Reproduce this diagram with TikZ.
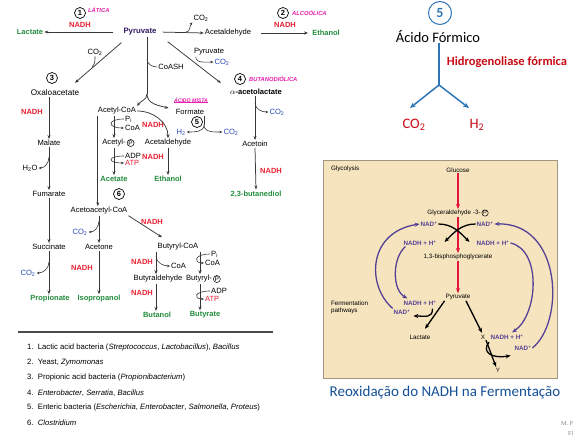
\documentclass[tikz,border=0pt]{standalone}
\usepackage{fontspec}
\setmainfont{Liberation Sans}
\newfontfamily\calibri{Carlito}
\newfontfamily\notefont{Liberation Serif}
\usetikzlibrary{positioning, arrows.meta, calc}
\definecolor{nadred}{RGB}{232,32,48}
\definecolor{prodgreen}{RGB}{34,140,60}
\definecolor{gasblue}{RGB}{40,70,180}
\definecolor{pyrtext}{RGB}{50,25,100}
\definecolor{handpink}{RGB}{228,30,170}
\definecolor{linegray}{RGB}{55,55,55}
\definecolor{ybranch}{RGB}{46,117,182}
\definecolor{enzred}{RGB}{200,10,20}
\definecolor{capblue}{RGB}{20,80,150}
\definecolor{boxbg}{RGB}{246,228,190}
\definecolor{boxedge}{RGB}{160,150,130}
\definecolor{cycpurple}{RGB}{85,65,150}
\definecolor{glyred}{RGB}{228,20,60}

\begin{document}
\begin{tikzpicture}[
  x=1pt, y=-1pt,
  lbl/.style={inner sep=1pt, font=\fontsize{7.6}{8}\selectfont},
  nadh/.style={inner sep=1pt, text=nadred, font=\fontsize{7.5}{8}\selectfont\bfseries},
  prod/.style={inner sep=1pt, text=prodgreen, font=\fontsize{7.5}{8}\selectfont\bfseries},
  gas/.style={lbl, text=gasblue},
  num/.style={circle, draw, line width=0.7pt, inner sep=0.5pt, minimum size=11pt,
    font=\fontsize{7.5}{8}\selectfont\bfseries},
  hand/.style={inner sep=0pt, text=handpink, font=\fontsize{5.8}{6}\selectfont\itshape\bfseries},
  pc/.style={circle, draw, inner sep=0.3pt, line width=0.5pt, font=\fontsize{6.5}{7}\selectfont},
  flow/.style={-{Stealth[length=4pt,width=3pt]}, line width=0.75pt, draw=linegray},
  plain/.style={line width=0.75pt, draw=linegray},
  hook/.style={-{Stealth[length=3pt,width=2.5pt]}, line width=0.6pt, draw=linegray},
  box/.style={inner sep=0.8pt, font=\fontsize{6.3}{7}\selectfont},
  nadbox/.style={inner sep=0.8pt, text=cycpurple, font=\fontsize{6.3}{7}\selectfont\bfseries},
  cyc/.style={-{Stealth[length=5pt,width=4pt]}, line width=1.3pt, draw=cycpurple},
  glyc/.style={-{Stealth[length=5pt,width=4pt]}, line width=1.2pt, draw=glyred},
  ferm/.style={-{Stealth[length=5pt,width=4pt]}, line width=1.3pt, draw=black},
  legend/.style={anchor=west, inner sep=0pt, font=\fontsize{7.7}{8}\selectfont},
  big/.style={inner sep=1pt, font=\calibri\fontsize{14.5}{15}\selectfont}
]
\useasboundingbox (0,0) rectangle (577,438);

\node[lbl, text=pyrtext, font=\fontsize{7.8}{8}\selectfont\bfseries] (pyr) at (140,32) {Pyruvate};
\node[prod] (lact) at (30,32) {Lactate};
\node[lbl] (acald) at (228,33) {Acetaldehyde};
\node[prod] (eth1) at (326,33) {Ethanol};
\node[nadh] (nadh1) at (80,25) {NADH};
\node[num] (n1) at (80,13) {1};
\node[hand, anchor=west] (h1) at (88,10) {LÁTICA};
\node[nadh] (nadh2) at (285,25) {NADH};
\node[num] (n2) at (283,13) {2};
\node[hand, anchor=west] (h2) at (292,13) {ALCOÓLICA};
\node[lbl] (co2a) at (201,18) {CO\textsubscript{2}};

\draw[flow, shorten <=9pt] (pyr.west) -- (lact.east);
\draw[flow, shorten <=5pt] (pyr.east) -- (acald.west);
\coordinate (ka) at (186,32);
\draw[hook] (ka) to[out=0,in=-130] (co2a.south west);
\draw[flow, shorten <=9pt, shorten >=3pt] (acald.east) -- (eth1.west);

\node[lbl] (co2b) at (95,52) {CO\textsubscript{2}};
\node[num] (n3) at (52,78) {3};
\node[lbl, font=\fontsize{8.2}{9}\selectfont] (oxa) at (55,93) {Oxaloacetate};
\draw[flow] ([shift={(-1,6)}]pyr.south west) -- ([shift={(20,-6)}]oxa.north);
\coordinate (kb) at (92,67);
\draw[plain, line width=0.6pt] (co2b.south) to[out=-90,in=45] (kb);

\coordinate (split) at (147,94);
\node[lbl] (coash) at (171,67) {CoASH};
\node[lbl] (acoa) at (117,111) {Acetyl-CoA};
\node[lbl] (form) at (190,112) {Formate};
\node[hand, font=\fontsize{5.2}{6}\selectfont\itshape\bfseries] (h5) at (191,100) {ÁCIDO MISTA};
\draw[handpink, line width=0.5pt] (h5.south west) -- (h5.south east);
\draw[plain] (split |- pyr.south) -- (split);
\coordinate (kc) at (147,59);
\draw[plain, line width=0.6pt] (kc) to[out=-90,in=180] (coash.west);
\draw[flow] (split) to[out=-90,in=60] (acoa.north east);
\draw[flow] (split) to[out=-90,in=165] ([shift={(-6,0)}]form.north west);

\node[lbl] (pyr2) at (209,52) {Pyruvate};
\node[gas] (co2c) at (222,62) {CO\textsubscript{2}};
\node[num] (n4) at (240,79) {4};
\node[hand, anchor=west] (h4) at (249,79) {BUTANODIÓLICA};
\node[lbl, font=\fontsize{7.6}{8}\selectfont\bfseries] (acl) at (256,92) {$\alpha$-acetolactate};
\draw[flow] ([shift={(10,5)}]pyr.south east) -- ([shift={(-8,-5)}]acl.north west);
\draw[hook] ([shift={(3,0)}]pyr2.south west) to[out=-90,in=180] (co2c.west);

\node[nadh] (nadh3) at (32,112) {NADH};
\node[lbl] (mal) at (49,143) {Malate};
\node[lbl] (h2o) at (30,168) {H\textsubscript{2}O};
\node[lbl] (fum) at (49,194) {Fumarate};
\node[lbl] (suc) at (49,247) {Succinate};
\node[gas] (co2f) at (28,273) {CO\textsubscript{2}};
\node[prod] (prop) at (50,299) {Propionate};
\draw[flow] (mal.north |- oxa.south) -- (mal.north);
\draw[flow] (mal.south) -- (fum.north);
\coordinate (kw) at (49,157);
\draw[hook] (kw) to[out=-90,in=0] (h2o.east);
\draw[flow] (fum.south) -- (suc.north);
\draw[flow] (suc.south) -- (suc.south |- prop.north);
\coordinate (kf) at (49,262);
\draw[hook] (kf) to[out=-90,in=0] (co2f.east);

\node[nadh] (nadh4) at (153,125) {NADH};
\node[lbl, anchor=west] (pi1) at (124,119) {P\textsubscript{i}};
\node[lbl, anchor=west] (coa1) at (124,128) {CoA};
\node[lbl] (acp) at (114,143) {Acetyl-};
\node[pc, right=0pt of acp] (acpP) {P};
\node[lbl] (acald2) at (168,143) {Acetaldehyde};
\node[lbl, anchor=west] (adp1) at (124,156) {ADP};
\node[nadh, anchor=west, font=\fontsize{7.5}{8}\selectfont] (atp1) at (124,163) {ATP};
\node[nadh] (nadh5) at (153,157) {NADH};
\node[prod] (acet) at (114,179) {Acetate};
\node[prod] (eth2) at (168,179) {Ethanol};
\node[num] (n6) at (119,194) {6};
\draw[flow] (acp.north |- acoa.south) -- (acp.north);
\draw[hook] (pi1.west) .. controls +(-17,0) and +(-17,0) .. (coa1.west);
\draw[flow] (acp.south) -- (acet.north);
\draw[hook] (adp1.west) .. controls +(-17,0) and +(-17,0) .. (atp1.west);
\draw[flow] (acoa.east) to[out=0,in=90] (acald2.north);
\draw[flow] (acald2.south) -- (eth2.north);

\node[num] (n5) at (197,122) {5};
\node[gas] (h2) at (181,132) {H\textsubscript{2}};
\node[gas] (co2d) at (231,132) {CO\textsubscript{2}};
\coordinate (fs) at (204,125);
\draw[plain] (fs |- form.south) -- (fs);
\draw[hook] (fs) to[out=-90,in=0] (h2.east);
\draw[hook] (fs) to[out=-90,in=180] (co2d.west);

\node[gas] (co2e) at (277,112) {CO\textsubscript{2}};
\node[lbl] (acn) at (255,144) {Acetoin};
\node[nadh] (nadh6) at (271,171) {NADH};
\node[prod] (bdo) at (256,194) {2,3-butanediol};
\draw[flow] (acn.north |- acl.south) -- (acn.north);
\coordinate (ke) at (255,103);
\draw[hook] (ke) to[out=-90,in=180] (co2e.west);
\draw[flow] (acn.south) -- (bdo.north);

\node[lbl] (acac) at (99,211) {Acetoacetyl-CoA};
\coordinate (acoaL) at ([xshift=1pt]acoa.south west);
\draw[flow] (acoaL) -- (acoaL |- acac.north);
\node[gas] (co2g) at (80,232) {CO\textsubscript{2}};
\node[lbl] (acetone) at (99,247) {Acetone};
\node[nadh] (nadh7) at (82,268) {NADH};
\node[prod] (iso) at (99,299) {Isopropanol};
\draw[flow] (acetone.north |- acac.south) -- (acetone.north);
\coordinate (kg) at (99,221);
\draw[hook] (kg) to[out=-90,in=0] (co2g.east);
\draw[flow] (acetone.south) -- (iso.north);

\node[nadh] (nadh8) at (152,222) {NADH};
\node[lbl] (bcoa) at (178,247) {Butyryl-CoA};
\draw[flow] (acac.south east) -- ([shift={(-16,-5)}]bcoa.north);
\coordinate (cx1) at (156,0);
\coordinate (cx2) at (200,0);
\node[nadh] (nadh9) at (142,262) {NADH};
\node[lbl, anchor=west] (coa2) at (170,266) {CoA};
\node[lbl] (bald) at (158,279) {Butyraldehyde};
\node[nadh] (nadh10) at (142,293) {NADH};
\node[prod] (buol) at (157,315) {Butanol};
\node[lbl, anchor=west] (pi2) at (210,254) {P\textsubscript{i}};
\node[lbl, anchor=west] (coa3) at (204,263) {CoA};
\node[lbl] (byp) at (199,279) {Butyryl-};
\node[pc, right=0pt of byp] (bypP) {P};
\node[lbl, anchor=west] (adp2) at (210,291) {ADP};
\node[nadh, anchor=west, font=\fontsize{7.5}{8}\selectfont] (atp2) at (204,299) {ATP};
\node[prod] (buat) at (205,315) {Butyrate};
\draw[flow] (cx1 |- bcoa.south) -- (cx1 |- bald.north);
\coordinate (kh) at (156,256);
\draw[hook] (kh) to[out=-90,in=180] (coa2.west);
\draw[flow] (cx1 |- bald.south) -- (cx1 |- buol.north);
\draw[flow] (cx2 |- bcoa.south) -- (cx2 |- byp.north);
\draw[hook] (pi2.west) .. controls +(-16,0) and +(-11,0) .. (coa3.west);
\draw[flow] (cx2 |- byp.south) -- (cx2 |- buat.north);
\draw[hook] (adp2.west) .. controls +(-16,0) and +(-11,0) .. (atp2.west);

\draw[line width=1.6pt, gray!60!black] (18,332) -- (273,332);
\foreach \i/\txt in {
  1/{Lactic acid bacteria (\textit{Streptococcus}, \textit{Lactobacillus}), \textit{Bacillus}},
  2/{Yeast, \textit{Zymomonas}},
  3/{Propionic acid bacteria (\textit{Propionibacterium})},
  4/{\textit{Enterobacter}, \textit{Serratia}, \textit{Bacillus}},
  5/{Enteric bacteria (\textit{Escherichia}, \textit{Enterobacter}, \textit{Salmonella}, \textit{Proteus})},
  6/{\textit{Clostridium}}}
  \node[legend] (leg\i) at (27,{333+15*\i}) {\i.\ \ \txt};

\node[circle, draw=ybranch, line width=1pt, text=ybranch, inner sep=0pt, minimum size=23pt,
  font=\calibri\fontsize{14}{14}\selectfont\bfseries] (c5) at (440,13) {5};
\node[big] (acf) at (438,36) {Ácido Fórmico};
\node[inner sep=1pt, text=enzred, font=\calibri\fontsize{12.5}{13}\selectfont\bfseries] (hfl) at (507,62) {Hidrogenoliase fórmica};
\node[big, text=enzred] (co2y) at (414,125) {CO\textsubscript{2}};
\node[big, text=enzred] (h2y) at (477,125) {H\textsubscript{2}};
\coordinate (ysplit) at (439,85);
\draw[line width=1.5pt, ybranch] (ysplit |- acf.south) -- (ysplit);
\draw[-{Stealth[length=6pt,width=5pt]}, line width=1.5pt, ybranch] (ysplit) -- ([shift={(-4,-10)}]co2y.north);
\draw[-{Stealth[length=6pt,width=5pt]}, line width=1.5pt, ybranch] (ysplit) -- ([shift={(-8,-10)}]h2y.north);

\draw[fill=boxbg, draw=boxedge, line width=0.8pt] (323,160) rectangle (557,378);
\node[box, anchor=west] (glycl) at (330,169) {Glycolysis};
\node[box] (glu) at (458,170) {Glucose};
\node[box] (g3p) at (454,213) {Glyceraldehyde -3-};
\node[pc, font=\fontsize{5.8}{6}\selectfont, right=0pt of g3p] (g3pP) {P};
\node[nadbox] (nadl) at (429,224) {NAD\textsuperscript{+}};
\node[nadbox] (nadr) at (485,224) {NAD\textsuperscript{+}};
\node[nadbox] (nadhl) at (420,243) {NADH + H\textsuperscript{+}};
\node[nadbox] (nadhr) at (493,243) {NADH + H\textsuperscript{+}};
\node[box] (bpg) at (458,257) {1,3-bisphosphoglycerate};
\node[box] (pyrf) at (458,297) {Pyruvate};
\node[box, anchor=west, align=left] (fpath) at (330,307) {Fermentation\\pathways};
\node[nadbox] (nadhf) at (420,303) {NADH + H\textsuperscript{+}};
\node[nadbox] (nadf) at (402,312) {NAD\textsuperscript{+}};
\node[box] (lactf) at (420,337) {Lactate};
\node[box] (xf) at (483,337) {X};
\node[nadbox] (nadhx) at (507,337) {NADH + H\textsuperscript{+}};
\node[nadbox] (nadx) at (523,348) {NAD\textsuperscript{+}};
\node[box] (yf) at (498,370) {Y};

\draw[glyc] (glu.south) -- (glu.south |- g3p.north);
\draw[glyc] (bpg.north |- g3p.south) -- (bpg.north);
\draw[glyc] (bpg.south) -- (pyrf.north);
\draw[ferm] (nadl.east) .. controls +(14,0) and +(-10,-10) .. ([shift={(-6,-1)}]nadhr.west);
\draw[ferm] (nadr.west) .. controls +(-14,0) and +(10,-10) .. ([shift={(7,-1)}]nadhl.east);
\draw[cyc] (nadf.north west) .. controls (366,285) and (368,232) .. (nadl.west);
\draw[cyc] ([shift={(3,0)}]nadhl.south west) .. controls (392,258) and (392,290) .. ([shift={(5,-1)}]nadhf.north west);
\draw[cyc] (nadhr.east) .. controls (542,250) and (538,315) .. ([shift={(5,-1)}]nadhx.north);
\draw[cyc] (nadx.east) .. controls (565,322) and (562,222) .. (nadr.east);
\draw[ferm] (pyrf.south west) -- ([shift={(5,-5)}]lactf.north);
\draw[ferm] ([shift={(-5,2)}]nadhf.south east) .. controls +(0,10) and +(12,0) .. ([shift={(2,4)}]nadf.east);
\draw[ferm] ([shift={(8,0)}]pyrf.south) -- ([shift={(-1,-1)}]xf.north);
\draw[ferm] ([shift={(3,0)}]xf.south) -- ([shift={(-2,0)}]yf.north);
\draw[ferm] ([shift={(6,2)}]xf.south) .. controls (481,352) and (492,359) .. ([shift={(-3,4)}]nadx.south west);

\node[text=capblue, inner sep=1pt, font=\calibri\fontsize{15}{16}\selectfont] (cap) at (445,393) {Reoxidação do NADH na Fermentação};
\node[anchor=west, inner sep=0pt, text=gray, font=\notefont\fontsize{6}{7}\selectfont] (mp) at (561,424) {M. P};
\node[anchor=west, inner sep=0pt, text=gray, font=\notefont\fontsize{6}{7}\selectfont] (fl) at (568,433) {Fl};
\end{tikzpicture}
\end{document}
